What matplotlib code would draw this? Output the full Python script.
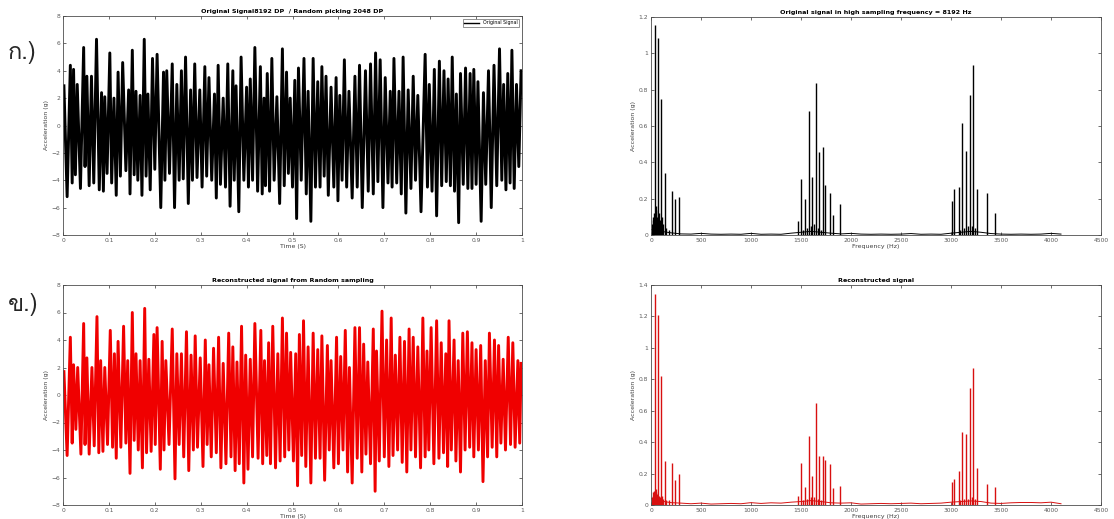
import numpy as np
import matplotlib
matplotlib.use('Agg')
import matplotlib.pyplot as plt
from matplotlib import font_manager, ft2font

orig_peak_t = [0.002, 0.016, 0.023, 0.031, 0.045, 0.052, 0.062, 0.073, 0.084, 0.091,
               0.102, 0.111, 0.120, 0.130, 0.143, 0.151, 0.159, 0.168, 0.177, 0.185,
               0.195, 0.205, 0.219, 0.226, 0.238, 0.248, 0.258, 0.267, 0.278, 0.287,
               0.298, 0.309, 0.318, 0.330, 0.338, 0.349, 0.359, 0.370, 0.377, 0.388,
               0.400, 0.408, 0.418, 0.430, 0.438, 0.445, 0.455, 0.466, 0.478, 0.487,
               0.495, 0.505, 0.513, 0.525, 0.534, 0.545, 0.555, 0.564, 0.573, 0.584,
               0.595, 0.603, 0.613, 0.623, 0.636, 0.646, 0.659, 0.670, 0.681, 0.691,
               0.702, 0.713, 0.721, 0.732, 0.741, 0.752, 0.763, 0.773, 0.789, 0.798,
               0.809, 0.820, 0.830, 0.839, 0.848, 0.857, 0.866, 0.877, 0.887, 0.895,
               0.904, 0.916, 0.927, 0.939, 0.951, 0.960, 0.969, 0.978, 0.988, 0.998]
orig_peak_v = [2.9, 4.4, 4.1, 3.0, 5.7, 3.6, 3.6, 6.3, 2.4, 2.1,
               5.3, 2.0, 3.9, 4.6, 2.6, 5.5, 2.5, 2.2, 6.3, 2.3,
               4.9, 5.2, 3.9, 4.0, 4.5, 3.0, 4.0, 5.0, 2.6, 4.5,
               2.6, 4.3, 3.5, 2.3, 4.4, 2.0, 4.5, 4.0, 2.9, 5.0,
               2.8, 3.4, 5.7, 4.3, 2.0, 3.8, 4.9, 2.1, 5.6, 3.9,
               2.0, 3.3, 4.2, 4.9, 2.5, 4.9, 3.2, 4.3, 3.6, 2.8,
               3.5, 2.2, 4.8, 2.5, 3.6, 4.4, 4.0, 4.5, 5.3, 4.8,
               3.5, 2.5, 4.9, 2.5, 5.0, 2.6, 3.6, 2.2, 5.2, 3.0,
               4.1, 4.7, 4.0, 3.4, 5.0, 2.3, 3.8, 4.2, 3.8, 4.1,
               3.2, 2.4, 4.0, 4.4, 5.6, 3.0, 3.8, 5.5, 3.0, 4.0]
orig_trough_t = [0.009, 0.020, 0.027, 0.038, 0.048, 0.057, 0.067, 0.079, 0.088, 0.096,
                 0.106, 0.116, 0.125, 0.137, 0.146, 0.155, 0.163, 0.172, 0.181, 0.190,
                 0.200, 0.213, 0.222, 0.232, 0.243, 0.253, 0.262, 0.273, 0.282, 0.292,
                 0.303, 0.313, 0.324, 0.334, 0.343, 0.354, 0.364, 0.373, 0.383, 0.394,
                 0.404, 0.413, 0.424, 0.434, 0.441, 0.450, 0.460, 0.472, 0.482, 0.491,
                 0.500, 0.509, 0.519, 0.530, 0.540, 0.550, 0.560, 0.569, 0.578, 0.590,
                 0.599, 0.608, 0.618, 0.630, 0.641, 0.652, 0.665, 0.676, 0.686, 0.697,
                 0.708, 0.717, 0.727, 0.737, 0.747, 0.758, 0.768, 0.780, 0.794, 0.804,
                 0.814, 0.825, 0.835, 0.844, 0.853, 0.862, 0.872, 0.882, 0.891, 0.900,
                 0.911, 0.921, 0.933, 0.945, 0.956, 0.965, 0.974, 0.983, 0.993]
orig_trough_v = [-5.2, -4.2, -3.6, -4.6, -3.0, -4.4, -4.2, -4.7, -4.8, -3.5,
                 -4.2, -5.1, -3.7, -3.3, -5.0, -3.6, -4.0, -5.1, -3.7, -4.7,
                 -3.2, -6.0, -4.0, -3.5, -6.0, -4.0, -3.9, -5.7, -4.0, -3.8,
                 -4.5, -3.7, -4.0, -5.3, -4.3, -4.5, -5.9, -4.0, -6.3, -4.0,
                 -4.5, -4.0, -4.8, -5.0, -4.4, -4.8, -4.0, -5.7, -4.4, -3.5,
                 -4.5, -6.8, -4.0, -5.0, -7.0, -4.5, -4.5, -3.7, -5.1, -4.5,
                 -5.5, -4.0, -4.5, -5.3, -4.5, -6.0, -4.8, -5.0, -4.1, -6.0,
                 -4.2, -4.5, -4.2, -5.0, -6.4, -4.6, -4.0, -6.3, -4.5, -4.8,
                 -6.6, -4.4, -4.1, -4.4, -4.8, -7.1, -4.3, -4.6, -4.6, -4.3,
                 -7.0, -4.3, -6.0, -4.4, -4.0, -4.7, -4.2, -4.6, -3.0]

rec_peak_t = [0.002, 0.016, 0.023, 0.032, 0.045, 0.052, 0.063, 0.074, 0.082, 0.091,
              0.103, 0.112, 0.120, 0.132, 0.141, 0.151, 0.159, 0.168, 0.178, 0.187,
              0.198, 0.205, 0.216, 0.224, 0.238, 0.248, 0.258, 0.269, 0.279, 0.288,
              0.299, 0.310, 0.318, 0.328, 0.339, 0.349, 0.361, 0.370, 0.379, 0.389,
              0.398, 0.408, 0.418, 0.431, 0.439, 0.448, 0.457, 0.468, 0.478, 0.487,
              0.496, 0.507, 0.515, 0.524, 0.534, 0.545, 0.555, 0.564, 0.576, 0.584,
              0.596, 0.605, 0.615, 0.624, 0.636, 0.646, 0.655, 0.664, 0.676, 0.683,
              0.695, 0.705, 0.715, 0.724, 0.734, 0.744, 0.754, 0.763, 0.773, 0.784,
              0.793, 0.802, 0.814, 0.824, 0.834, 0.841, 0.852, 0.861, 0.871, 0.881,
              0.891, 0.900, 0.910, 0.920, 0.929, 0.940, 0.949, 0.959, 0.970, 0.980,
              0.991, 0.998]
rec_peak_v = [1.7, 4.2, 2.2, 2.0, 5.2, 2.7, 2.0, 5.7, 2.5, 2.0,
              4.7, 3.0, 3.9, 5.0, 2.5, 6.0, 3.0, 2.5, 6.3, 2.6,
              4.4, 4.9, 3.9, 2.5, 4.8, 3.0, 3.0, 4.6, 2.9, 4.3,
              2.7, 4.0, 2.2, 3.4, 4.2, 2.3, 4.5, 3.5, 2.4, 5.0,
              2.9, 2.6, 5.2, 4.7, 2.5, 3.8, 5.0, 3.0, 5.6, 4.5,
              3.1, 3.0, 4.4, 5.4, 3.5, 4.5, 3.3, 4.3, 3.6, 2.5,
              4.2, 2.8, 4.7, 2.0, 4.9, 4.9, 3.7, 2.4, 4.8, 3.2,
              6.1, 4.0, 5.6, 2.9, 4.2, 3.9, 4.8, 4.2, 3.5, 5.6,
              3.2, 4.9, 5.4, 3.8, 3.0, 5.4, 4.0, 2.5, 4.5, 4.6,
              3.8, 3.3, 3.6, 2.5, 4.5, 4.0, 3.6, 2.6, 4.2, 3.8,
              2.5, 2.3]
rec_trough_t = [0.009, 0.020, 0.028, 0.039, 0.048, 0.057, 0.068, 0.078, 0.087, 0.097,
                0.108, 0.116, 0.126, 0.137, 0.146, 0.155, 0.164, 0.173, 0.182, 0.192,
                0.201, 0.212, 0.220, 0.231, 0.244, 0.253, 0.263, 0.274, 0.284, 0.293,
                0.305, 0.314, 0.323, 0.334, 0.344, 0.355, 0.366, 0.375, 0.384, 0.394,
                0.403, 0.413, 0.425, 0.435, 0.444, 0.452, 0.463, 0.473, 0.483, 0.492,
                0.502, 0.511, 0.520, 0.529, 0.540, 0.550, 0.560, 0.570, 0.580, 0.590,
                0.600, 0.610, 0.620, 0.630, 0.641, 0.651, 0.660, 0.670, 0.680, 0.689,
                0.700, 0.710, 0.719, 0.729, 0.739, 0.749, 0.758, 0.768, 0.779, 0.789,
                0.797, 0.808, 0.819, 0.829, 0.838, 0.846, 0.856, 0.866, 0.876, 0.886,
                0.895, 0.905, 0.915, 0.925, 0.935, 0.945, 0.954, 0.964, 0.975, 0.985,
                0.995]
rec_trough_v = [-4.4, -3.5, -2.5, -4.3, -3.6, -4.3, -3.7, -4.2, -4.1, -3.6,
                -3.8, -4.6, -3.8, -3.5, -5.7, -3.3, -4.0, -5.3, -4.2, -4.1,
                -3.6, -5.4, -4.0, -3.6, -6.1, -3.6, -4.5, -5.5, -4.0, -3.8,
                -5.2, -3.6, -4.5, -4.2, -5.3, -5.0, -4.5, -5.5, -5.0, -6.4,
                -5.4, -4.5, -4.6, -5.0, -4.4, -5.0, -5.3, -4.8, -4.5, -4.0,
                -4.8, -6.6, -4.4, -5.2, -6.4, -4.6, -4.6, -6.2, -4.0, -5.3,
                -5.0, -4.0, -5.6, -6.4, -4.6, -5.6, -4.3, -5.0, -7.0, -4.8,
                -4.5, -5.2, -4.4, -4.0, -4.9, -5.6, -4.0, -4.5, -5.3, -4.5,
                -4.0, -5.0, -4.6, -4.2, -5.2, -4.0, -4.8, -5.6, -4.0, -3.8,
                -4.5, -4.0, -6.3, -4.5, -3.8, -4.5, -3.5, -4.0, -3.6, -3.8,
                -3.5]

# spectra: peak frequencies (Hz) and amplitudes
orig_freq = [38, 69, 100, 142, 211, 243, 281,
             8, 15, 22, 30, 45, 52, 60, 80, 88, 108, 120, 150, 175,
             1467, 1498, 1540, 1581, 1612, 1647, 1682, 1716, 1741, 1789, 1824, 1890,
             1520, 1560, 1600, 1630, 1665, 1700,
             3010, 3034, 3076, 3107, 3148, 3187, 3221, 3256, 3360, 3436,
             3090, 3130, 3170, 3205, 3240]
orig_amp = [1.154, 1.086, 0.751, 0.34, 0.244, 0.196, 0.21,
            0.06, 0.10, 0.08, 0.12, 0.16, 0.14, 0.10, 0.12, 0.08, 0.10, 0.06, 0.04, 0.03,
            0.079, 0.308, 0.196, 0.683, 0.32, 0.839, 0.456, 0.486, 0.273, 0.229, 0.11, 0.169,
            0.03, 0.04, 0.05, 0.06, 0.04, 0.03,
            0.187, 0.253, 0.262, 0.614, 0.464, 0.773, 0.938, 0.251, 0.229, 0.119,
            0.03, 0.04, 0.05, 0.05, 0.04]
rec_freq = orig_freq
rec_amp = [1.343, 1.209, 0.819, 0.282, 0.265, 0.159, 0.197,
           0.05, 0.08, 0.06, 0.09, 0.10, 0.08, 0.07, 0.06, 0.05, 0.06, 0.04, 0.03, 0.03,
           0.057, 0.267, 0.117, 0.437, 0.187, 0.647, 0.31, 0.312, 0.286, 0.259, 0.106, 0.123,
           0.03, 0.04, 0.05, 0.05, 0.04, 0.03,
           0.144, 0.165, 0.214, 0.467, 0.454, 0.745, 0.872, 0.235, 0.136, 0.112,
           0.03, 0.04, 0.04, 0.05, 0.04]

floor_f = list(range(0, 4200, 100))
orig_floor = [0.03, 0.02, 0.012, 0.006, 0.005, 0.009, 0.005, 0.004, 0.005, 0.004,
              0.009, 0.004, 0.005, 0.004, 0.01, 0.015, 0.02, 0.015, 0.01, 0.006,
              0.009, 0.005, 0.004, 0.005, 0.004, 0.005, 0.008, 0.004, 0.005, 0.004,
              0.01, 0.015, 0.02, 0.015, 0.008, 0.005, 0.004, 0.005, 0.004, 0.005,
              0.009, 0.005]
rec_floor = [0.04, 0.025, 0.015, 0.012, 0.008, 0.012, 0.006, 0.008, 0.01, 0.008,
             0.015, 0.01, 0.014, 0.012, 0.018, 0.022, 0.028, 0.022, 0.014, 0.012,
             0.014, 0.006, 0.008, 0.01, 0.008, 0.01, 0.012, 0.008, 0.01, 0.012,
             0.018, 0.022, 0.026, 0.022, 0.012, 0.01, 0.014, 0.016, 0.016, 0.014,
             0.018, 0.008]

# find a font that has Thai glyphs for the panel labels
thai_font = 'DejaVu Sans'
for fe in font_manager.fontManager.ttflist:
    try:
        if ord('ก') in ft2font.FT2Font(fe.fname).get_charmap():
            thai_font = fe.name
            break
    except Exception:
        pass

fig = plt.figure(figsize=(11.14, 5.19), dpi=100)
W, H = 1114, 519


def box(x0, y0, x1, y1):
    return [x0 / W, 1 - y1 / H, (x1 - x0) / W, (y1 - y0) / H]


def style(ax):
    ax.tick_params(direction='in', top=True, right=True, length=2.5, width=0.5,
                   labelsize=4.3, labelcolor='0.35', pad=2, color='0.2')
    for s in ax.spines.values():
        s.set_linewidth(0.6)
        s.set_color('0.3')


def merged(pt, pv, tt, tv):
    t = np.concatenate([pt, tt])
    v = np.concatenate([pv, tv])
    o = np.argsort(t)
    return t[o], v[o]


def time_panel(ax, pt, pv, tt, tv, color, title):
    t, v = merged(pt, pv, tt, tv)
    line, = ax.plot(t, v, color=color, lw=2.1)
    ax.set_xlim(0, 1)
    ax.set_ylim(-8, 8)
    ax.set_xticks(np.arange(0, 1.01, 0.1))
    ax.set_xticklabels(['0'] + [f'{x:.1f}' for x in np.arange(0.1, 0.95, 0.1)] + ['1'])
    ax.set_yticks(range(-8, 9, 2))
    ax.set_title(title, fontsize=4.6, fontweight='bold', pad=2)
    ax.set_xlabel('Time (S)', fontsize=4.5, color='0.25', labelpad=1)
    ax.set_ylabel('Acceleration (g)', fontsize=4.5, color='0.25', labelpad=2)
    style(ax)
    return line


def spec_panel(ax, freq, amp, floor, color, ymax, title):
    ax.plot(floor_f, floor, color=color, lw=0.7)
    ax.vlines(freq, 0, amp, color=color, lw=1.0)
    ax.set_xlim(0, 4500)
    ax.set_ylim(0, ymax)
    ax.set_xticks(range(0, 4501, 500))
    ax.set_yticks(np.arange(0, ymax + 0.01, 0.2))
    ax.set_yticklabels([f'{y:g}' for y in np.round(np.arange(0, ymax + 0.01, 0.2), 1)])
    ax.set_title(title, fontsize=4.6, fontweight='bold', pad=2)
    ax.set_xlabel('Frequency (Hz)', fontsize=4.5, color='0.25', labelpad=1)
    ax.set_ylabel('Acceleration (g)', fontsize=4.5, color='0.25', labelpad=2)
    style(ax)


ax1 = fig.add_axes(box(63, 16, 522, 235))
l1 = time_panel(ax1, orig_peak_t, orig_peak_v, orig_trough_t, orig_trough_v, 'black',
                'Original Signal8192 DP  / Random picking 2048 DP')
leg = ax1.legend([l1], ['Original Signal'], loc='upper right', fontsize=3.4, fancybox=False,
                 edgecolor='0.4', framealpha=1, borderpad=0.3, handlelength=3.2,
                 borderaxespad=0.6)
leg.get_frame().set_linewidth(0.5)
leg.get_lines()[0].set_linewidth(1.0)

ax2 = fig.add_axes(box(651, 17, 1101, 235))
spec_panel(ax2, orig_freq, orig_amp, orig_floor, 'black', 1.2,
           'Original signal in high sampling frequency = 8192 Hz')

ax3 = fig.add_axes(box(63, 285, 522, 505))
time_panel(ax3, rec_peak_t, rec_peak_v, rec_trough_t, rec_trough_v, '#f00000',
           'Reconstructed signal from Random sampling')

ax4 = fig.add_axes(box(651, 285, 1101, 505))
spec_panel(ax4, rec_freq, rec_amp, rec_floor, '#d81010', 1.4, 'Reconstructed signal')

fig.text(8 / W, 1 - 53 / H, 'ก.)', fontsize=17, family=[thai_font, 'DejaVu Sans'],
         va='center', ha='left', color='0.15')
fig.text(8 / W, 1 - 305 / H, 'ข.)', fontsize=17, family=[thai_font, 'DejaVu Sans'],
         va='center', ha='left', color='0.15')

fig.savefig('out.png', dpi=100, facecolor='white')
